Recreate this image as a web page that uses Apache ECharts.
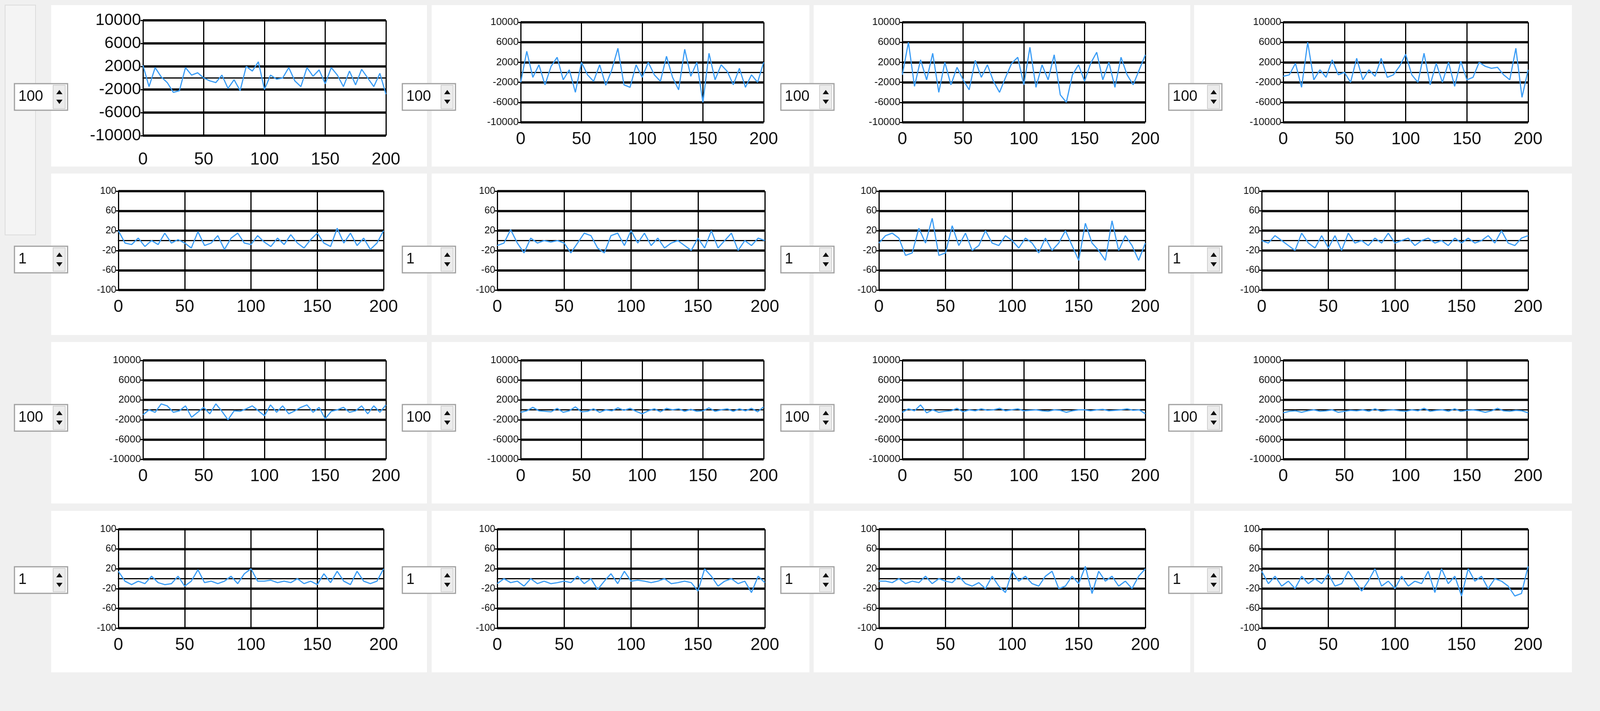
<!DOCTYPE html>
<html><head><meta charset="utf-8">
<script src="https://cdn.jsdelivr.net/npm/echarts@6/dist/echarts.min.js"></script>
<style>html,body{margin:0;padding:0;background:#f0f0f0}#c{width:4175px;height:1819px}</style>
</head><body><div id="c"></div>
<script>
const xTicks = [0,50,100,150,200];
const bigTicks = [-10000,-6000,-2000,2000,6000,10000];
const smallTicks = [-100,-60,-20,20,60,100];
const spinValues = ["100","1","100","1"];
const s1=[2200,-1500,1800,200,-800,-2500,-2200,1800,500,900,0,-500,-800,500,-1800,-300,-2200,2000,1200,2800,-2000,500,-200,0,1800,-500,-1500,1800,300,1400,-1000,1800,500,-1500,1200,-1200,1500,0,-1500,800,-2800];
const s2=[-2000,4200,-1000,1500,-2500,1200,3000,-1500,500,-4000,2000,-500,-1800,1500,-2600,500,4800,-2500,-3000,1500,-1000,2000,-500,-1800,3200,-1000,-3500,4600,-800,2000,-6000,3800,-1500,1500,200,-2500,800,-3000,-500,-2000,2000];
const s3=[-500,6000,-2800,2500,-1500,3800,-4000,2000,-2500,1000,-1500,-3500,2400,-1000,1500,-1800,-4000,-1000,1800,3000,-2500,5000,-3000,1500,-1500,3500,-4500,-6000,-500,1500,-1800,1800,4000,-1500,2000,-3000,3000,-500,-2500,500,3500];
const s4=[-800,-500,1800,-3000,6000,-1500,500,-1000,2500,-500,0,-2000,2800,-1500,500,-800,2800,-1000,-500,1200,3600,-500,-2000,3800,-2500,1800,-2000,2000,-2800,2200,-1500,-1000,2000,1200,800,1000,-500,-1500,4800,-5000,500];
const s5=[20,-5,-8,5,-12,0,-8,15,-5,2,-5,-15,18,-10,-5,10,-18,5,15,-5,-8,10,-3,-12,5,-8,12,-5,-15,2,15,-5,-12,25,-5,15,-10,5,-18,-5,20];
const s6=[-10,-5,22,-5,-25,5,-5,0,-3,0,-5,-25,-5,15,10,-15,-25,10,15,-10,20,-5,15,-10,5,-15,-5,0,-10,-20,5,-15,20,-15,0,15,-20,0,-10,5,0];
const s7=[-5,10,15,5,-30,-25,25,-5,45,-30,-25,30,-10,15,-20,-10,20,-5,-10,10,0,-15,5,-5,-25,5,-20,-5,20,-10,-40,35,-5,-20,-40,40,-20,10,-10,-40,-5];
const s8=[0,-5,10,0,-10,-20,15,-5,-15,10,-15,10,-20,15,-5,0,-10,5,-5,15,-5,0,5,-10,0,5,-5,0,-10,5,-5,5,-5,0,10,-5,20,-5,-10,5,10];
const s9=[-1000,0,-500,1200,800,-500,-200,800,-1500,-500,500,-800,1200,-300,-2000,-200,-300,200,800,-200,-1200,1000,-500,800,-800,-200,500,1000,-500,500,-1800,-300,0,500,-500,-200,800,-800,800,-500,1000];
const s10=[-500,-200,500,-200,-300,-400,300,-500,-200,600,-400,-300,200,-500,0,-200,400,-100,300,-300,-800,-200,200,-400,300,0,200,-300,100,-300,-200,400,-300,0,200,-300,200,-200,300,-400,600];
const s11=[-500,200,-200,1000,-600,0,-500,-300,-200,300,-400,0,-200,200,-100,0,300,-200,0,200,-200,-100,0,-200,-300,0,-100,-500,-200,0,0,-200,0,100,-200,-100,0,200,-100,0,-800];
const s12=[-600,-300,-200,-500,-200,0,-300,-200,0,-500,-300,-100,-200,0,-300,200,-300,-100,0,-200,-300,0,-200,300,-300,-100,0,-300,200,-300,-100,0,-200,-500,-200,300,-200,-300,-100,-200,-600];
const s13=[15,-5,-12,-5,-10,5,-8,-12,-10,5,-15,-5,18,-8,-5,-10,-5,5,-10,10,20,-5,-5,-3,-8,-5,-8,0,-10,-5,-12,10,-8,15,-5,-12,15,-5,-10,-5,20];
const s14=[-10,0,-8,-5,-15,0,-10,-5,-10,-8,-5,-8,5,-10,0,-22,-5,10,-10,15,-5,-3,-5,-8,-5,0,-10,-8,-5,-8,-25,20,5,-15,-5,0,-10,-5,-28,5,-8];
const s15=[-5,-5,-8,0,-10,-5,-8,5,-10,0,-5,-8,5,-10,-15,-8,-20,5,-15,-28,15,-5,5,-10,-15,5,15,-20,-15,5,-10,25,-30,15,-5,5,-15,-5,-20,5,20];
const s16=[15,-10,5,-15,-5,-20,5,-10,0,-10,10,-15,-10,15,-5,-25,-5,20,-15,-5,-20,5,-15,-5,-10,15,-28,20,-10,5,-35,20,-5,5,-20,0,-5,-15,-35,-30,25];
const allSeries=[s1,s2,s3,s4,s5,s6,s7,s8,s9,s10,s11,s12,s13,s14,s15,s16];

const S = 2.613;
const p = v => Math.round(v*S);
const rowY = [[20,133],[187,284],[353,450],[518,615]];
const row1Y = [22,120];
const colXwide = [[140,378],[510,748],[884,1122],[1257,1497]];
const colXnarrow = [[116,376],[487,749],[861,1122],[1236,1497]];
const panelRows = [[5,163],[170,328],[335,493],[500,658]];
const panelCols = [[50,418],[423,793],[797,1166],[1170,1540]];
const spinRows = [[82,108],[241,267],[396,422],[555,581]];
const spinCols = [14,394,765,1145];

const grids=[],xAxes=[],yAxes=[],series=[],graphic=[];
for(let r=0;r<4;r++){for(let c=0;c<4;c++){
  const i=r*4+c;
  const big = (r%2===0);
  let xr = big?colXwide[c]:colXnarrow[c];
  let yr = rowY[r];
  if(r===0 && c>0) yr=row1Y;
  const first = (r===0&&c===0);
  grids.push({left:p(xr[0]),width:p(xr[1]-xr[0]),top:p(yr[0]),height:p(yr[1]-yr[0])});
  xAxes.push({gridIndex:i,type:'value',min:0,max:200,interval:50,
    axisLine:{lineStyle:{color:'#000',width:3}},axisTick:{show:false},
    axisLabel:{fontSize:44,color:'#111',fontFamily:'Liberation Sans, Arial',margin:first?40:22},
    splitLine:{show:true,lineStyle:{color:'#000',width:3}}});
  yAxes.push({gridIndex:i,type:'value',min:big?-10000:-100,max:big?10000:100,interval:big?4000:40,
    axisLine:{show:true,lineStyle:{color:'#000',width:3}},axisTick:{show:true,length:6,lineStyle:{color:'#000',width:3}},
    axisLabel:{fontSize:first?42:(big?26:25),color:'#111',fontFamily:'Liberation Sans, Arial',margin:5,formatter:v=>String(v)},
    splitLine:{show:true,lineStyle:{color:'#111',width:6}}});
  series.push({type:'line',xAxisIndex:i,yAxisIndex:i,showSymbol:false,
    data:allSeries[i].map((v,k)=>[k*5,v]),lineStyle:{color:'#3a9cf5',width:3},z:5});
  const px=panelCols[c],py=panelRows[r];
  graphic.push({type:'rect',z:-10,shape:{x:p(px[0]),y:p(py[0]),width:p(px[1]-px[0]),height:p(py[1]-py[0])},style:{fill:'#fff'}});
  const sx=p(spinCols[c]),sy=p(spinRows[r][0]),sw=p(52),sh=p(spinRows[r][1]-spinRows[r][0]);
  graphic.push({type:'rect',z:10,shape:{x:sx,y:sy,width:sw,height:sh},style:{fill:'#fff',stroke:'#a0a0a0',lineWidth:3}});
  graphic.push({type:'rect',z:11,shape:{x:sx+p(38),y:sy+4,width:p(12),height:sh-8},style:{fill:'#ececec',stroke:'#d0d0d0',lineWidth:2}});
  graphic.push({type:'polygon',z:12,shape:{points:[[sx+p(44),sy+p(6)],[sx+p(41),sy+p(10.5)],[sx+p(47),sy+p(10.5)]]},style:{fill:'#111'}});
  graphic.push({type:'polygon',z:12,shape:{points:[[sx+p(44),sy+p(20)],[sx+p(41),sy+p(15.5)],[sx+p(47),sy+p(15.5)]]},style:{fill:'#111'}});
  graphic.push({type:'text',z:12,style:{text:spinValues[r],x:sx+10,y:sy+sh/2,verticalAlign:'middle',fontSize:38,fill:'#111',fontFamily:'Liberation Sans, Arial'}});
}}
graphic.push({type:'rect',z:-11,shape:{x:p(5),y:p(5),width:p(30),height:p(225)},style:{fill:'#f4f4f4',stroke:'#dcdcdc',lineWidth:2}});

const chart=echarts.init(document.getElementById('c'));
chart.setOption({backgroundColor:'#f0f0f0',animation:false,grid:grids,xAxis:xAxes,yAxis:yAxes,series:series,graphic:graphic});
</script></body></html>
